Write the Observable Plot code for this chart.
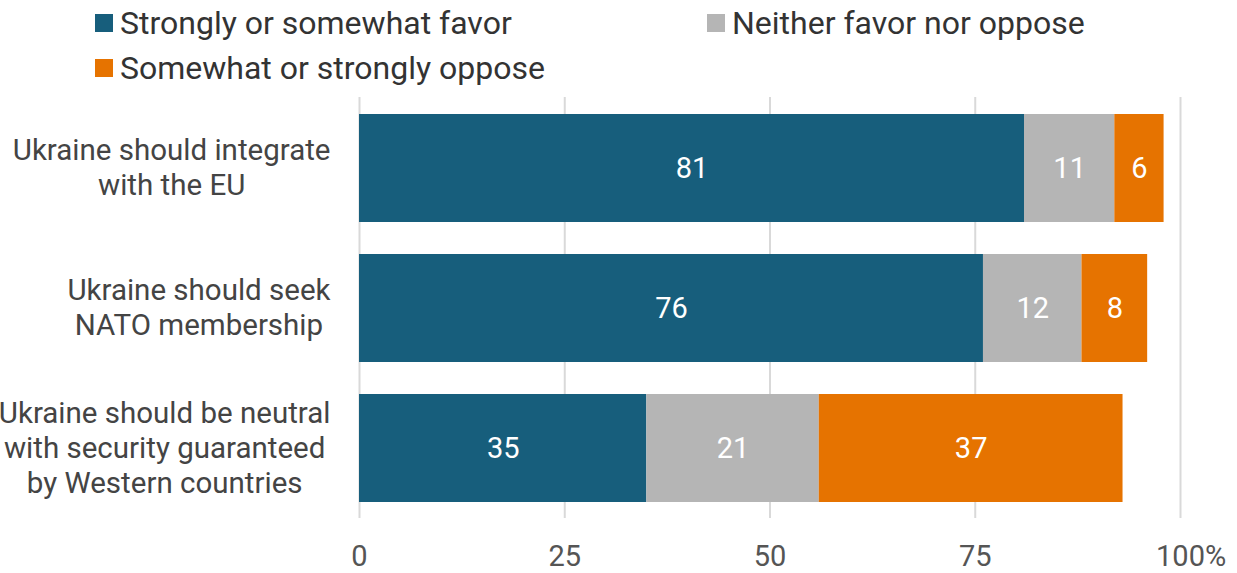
<!DOCTYPE html>
<html>
<head>
<meta charset="utf-8">
<script src="https://cdn.jsdelivr.net/npm/d3@7"></script>
<script src="https://cdn.jsdelivr.net/npm/@observablehq/plot@0.6"></script>
<style>
  html, body { margin: 0; padding: 0; background: #fff; }
  body { width: 1237px; height: 573px; overflow: hidden; font-family: Roboto, sans-serif; }
  #legend { height: 92px; box-sizing: border-box; padding-left: 95px; display: grid;
    grid-template-columns: 612px auto; grid-auto-rows: 45px; align-content: start; }
  .item { display: flex; align-items: center; font-size: 32px; color: #333; height: 45px; }
  .sw { width: 18px; height: 18px; margin-right: 7px; flex: none; }
  #chart svg { display: block; }
</style>
</head>
<body>
<div id="legend"></div>
<div id="chart"></div>
<script>
const categories = [
  "Ukraine should integrate\nwith the EU",
  "Ukraine should seek\nNATO membership",
  "Ukraine should be neutral\nwith security guaranteed\nby Western countries"
];
const series = ["Strongly or somewhat favor", "Neither favor nor oppose", "Somewhat or strongly oppose"];
const favor = [81, 76, 35];
const neither = [11, 12, 21];
const oppose = [6, 8, 37];
const colors = ["#175E7C", "#B5B5B5", "#E67300"];
const xTicks = [0, 25, 50, 75, 100];

const values = [favor, neither, oppose];
const rows = [];
categories.forEach((c, i) => {
  series.forEach((s, j) => rows.push({category: c, series: s, value: values[j][i]}));
});

// legend
const legend = document.getElementById("legend");
series.forEach((s, j) => {
  const it = document.createElement("div");
  it.className = "item";
  it.innerHTML = `<span class="sw" style="background:${colors[j]}"></span><span>${s}</span>`;
  legend.appendChild(it);
});

// measure label widths
const fontSize = 29;
const labelSize = 29.5;
const ctx = document.createElement("canvas").getContext("2d");
ctx.font = `${labelSize}px Roboto`;
const labelMarks = categories.map(c => {
  const w = d3.max(c.split("\n"), l => ctx.measureText(l).width);
  return Plot.text([c], {
    y: d => d, text: d => d, frameAnchor: "left", textAnchor: "middle",
    dx: -(29 + w / 2), dy: -2, lineHeight: 1.19, fill: "#444", fontSize: labelSize
  });
});
ctx.font = `${fontSize}px Roboto`;
const lastTickHalf = ctx.measureText(String(xTicks[xTicks.length - 1])).width / 2;
const tickPad = 27;

const plot = Plot.plot({
  width: 1237,
  height: 481,
  marginLeft: 359,
  marginRight: 57,
  marginTop: 5,
  marginBottom: 55,
  style: {fontFamily: "Roboto", fontSize: `${fontSize}px`, color: "#555", background: "#fff"},
  x: {domain: [0, 100], axis: null},
  y: {domain: categories, paddingInner: 0.231, paddingOuter: 0.1137, axis: null},
  color: {domain: series, range: colors},
  marks: [
    Plot.gridX(xTicks, {stroke: "#d9d9d9", strokeOpacity: 1, strokeWidth: 2}),
    Plot.axisX({ticks: xTicks, tickSize: 0, tickPadding: tickPad, fontSize, label: null,
      tickFormat: d => String(d)}),
    Plot.text([xTicks[xTicks.length - 1]], {x: d => d, text: () => "%", frameAnchor: "bottom",
      lineAnchor: "top", textAnchor: "start", dx: lastTickHalf, dy: tickPad, fill: "#555", fontSize}),
    Plot.barX(rows, {x: "value", y: "category", fill: "series", z: "series", order: series}),
    Plot.text(rows, Plot.stackX({x: "value", y: "category", z: "series", text: d => String(d.value),
      order: series, fill: "white", fontSize})),
    ...labelMarks
  ]
});
document.getElementById("chart").appendChild(plot);
</script>
</body>
</html>
